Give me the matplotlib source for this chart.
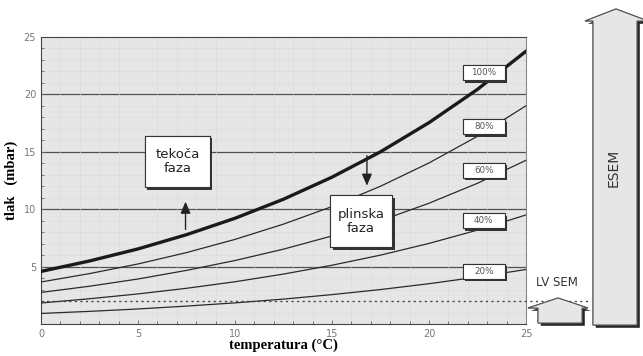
import matplotlib
matplotlib.use("Agg")
import matplotlib.pyplot as plt
import matplotlib.patheffects as pe
from matplotlib.patches import Polygon, Rectangle
from matplotlib.ticker import MultipleLocator

# temperature (°C) and vapour pressure curves
temps = [0, 2.5, 5, 7.5, 10, 12.5, 15, 17.5, 20, 22.5, 25]
p100 = [4.58, 5.49, 6.54, 7.78, 9.21, 10.87, 12.79, 15.00, 17.54, 20.44, 23.76]
p80 = [3.66, 4.39, 5.23, 6.22, 7.37, 8.70, 10.23, 12.00, 14.03, 16.35, 19.01]
p60 = [2.75, 3.29, 3.92, 4.67, 5.53, 6.52, 7.67, 9.00, 10.52, 12.26, 14.26]
p40 = [1.83, 2.20, 2.62, 3.11, 3.68, 4.35, 5.12, 6.00, 7.02, 8.18, 9.50]
p20 = [0.92, 1.10, 1.31, 1.56, 1.84, 2.17, 2.56, 3.00, 3.51, 4.09, 4.75]
lv_sem_limit = 2.0

pct_labels = ["100%", "80%", "60%", "40%", "20%"]
pct_label_y = [21.9, 17.2, 13.4, 9.0, 4.6]

W, H = 643, 356
fig = plt.figure(figsize=(W / 100, H / 100), dpi=100)
fig.patch.set_facecolor("white")

ax = fig.add_axes([41 / W, (H - 324) / H, 485 / W, 287 / H])
ax.set_facecolor("#e6e6e6")
ax.set_xlim(0, 25)
ax.set_ylim(0, 25)

# faint paper grid
ax.xaxis.set_minor_locator(MultipleLocator(1))
ax.yaxis.set_minor_locator(MultipleLocator(1))
ax.grid(which="minor", color="#dadada", lw=0.4)
for yv in [5, 10, 15, 20]:
    ax.axhline(yv, color="#505050", lw=0.9, zorder=1)

ax.set_xticks([0, 5, 10, 15, 20, 25])
ax.set_yticks([5, 10, 15, 20, 25])
ax.tick_params(which="both", direction="in", colors="#666666", labelsize=7, length=3, width=0.6)
ax.tick_params(which="minor", length=2)
for lab in ax.get_xticklabels() + ax.get_yticklabels():
    lab.set_fontfamily("DejaVu Sans")
    lab.set_color("#777777")
for s in ax.spines.values():
    s.set_color("#444444")
    s.set_linewidth(0.8)
ax.spines["right"].set_color("#888888")

ax.plot(temps, p100, color="#1a1a1a", lw=2.4, zorder=3)
for series in [p80, p60, p40, p20]:
    ax.plot(temps, series, color="#2a2a2a", lw=0.9, zorder=3)

ax.plot([0, 28.3], [lv_sem_limit, lv_sem_limit], color="#444444", lw=1.0,
        ls=(0, (1.5, 2.5)), clip_on=False, zorder=3)

shadow = [pe.withSimplePatchShadow(offset=(1.8, -1.8), shadow_rgbFace="#333333", alpha=1), pe.Normal()]


def label_box(x0, x1, y0, y1, text, size, color):
    r = Rectangle((x0, y0), x1 - x0, y1 - y0, fc="white", ec="#333333", lw=0.8, zorder=6)
    r.set_path_effects(shadow)
    ax.add_patch(r)
    ax.text((x0 + x1) / 2, (y0 + y1) / 2, text, ha="center", va="center", fontsize=size,
            color=color, family="DejaVu Sans", linespacing=1.15, zorder=7)


for lab, yv in zip(pct_labels, pct_label_y):
    label_box(21.75, 23.9, yv - 0.65, yv + 0.65, lab, 6.3, "#555555")

label_box(5.36, 8.71, 11.9, 16.4, "tekoča\nfaza", 9.5, "#222222")
label_box(14.9, 18.1, 6.7, 11.2, "plinska\nfaza", 9.5, "#222222")

ax.annotate("", xy=(7.45, 10.9), xytext=(7.45, 8.0),
            arrowprops=dict(arrowstyle="-|>,head_width=0.3,head_length=0.7", color="#222222", lw=1.0),
            zorder=5)
ax.annotate("", xy=(16.8, 11.8), xytext=(16.8, 14.9),
            arrowprops=dict(arrowstyle="-|>,head_width=0.3,head_length=0.7", color="#222222", lw=1.0),
            zorder=5)

ax.set_xlabel("temperatura (°C)", fontsize=10.5, fontweight="bold", family="Liberation Serif", labelpad=0)
ax.set_ylabel("tlak   (mbar)", fontsize=10.5, fontweight="bold", family="Liberation Serif", labelpad=4)

# overlay axes in pixel coordinates for the SEM arrows
ov = fig.add_axes([0, 0, 1, 1])
ov.set_xlim(0, W)
ov.set_ylim(H, 0)
ov.axis("off")

arrow_shadow = [pe.withSimplePatchShadow(offset=(2, -2), shadow_rgbFace="#222222", alpha=1), pe.Normal()]

esem = Polygon([(593, 325), (593, 21), (585, 21), (616, 9), (648, 21), (637, 21), (637, 325)],
               closed=True, fc="#e6e6e6", ec="#555555", lw=0.8)
esem.set_path_effects(arrow_shadow)
ov.add_patch(esem)
ov.text(614, 168, "ESEM", rotation=90, ha="center", va="center", fontsize=10,
        color="#333333", family="DejaVu Sans")

lv = Polygon([(538, 323), (538, 308), (528, 308), (558, 298), (588, 308), (582, 308), (582, 323)],
             closed=True, fc="#e6e6e6", ec="#555555", lw=0.8)
lv.set_path_effects(arrow_shadow)
ov.add_patch(lv)
ov.text(557, 282, "LV SEM", ha="center", va="center", fontsize=8.5, color="#333333",
        family="DejaVu Sans")

fig.savefig("out.png", dpi=100)
